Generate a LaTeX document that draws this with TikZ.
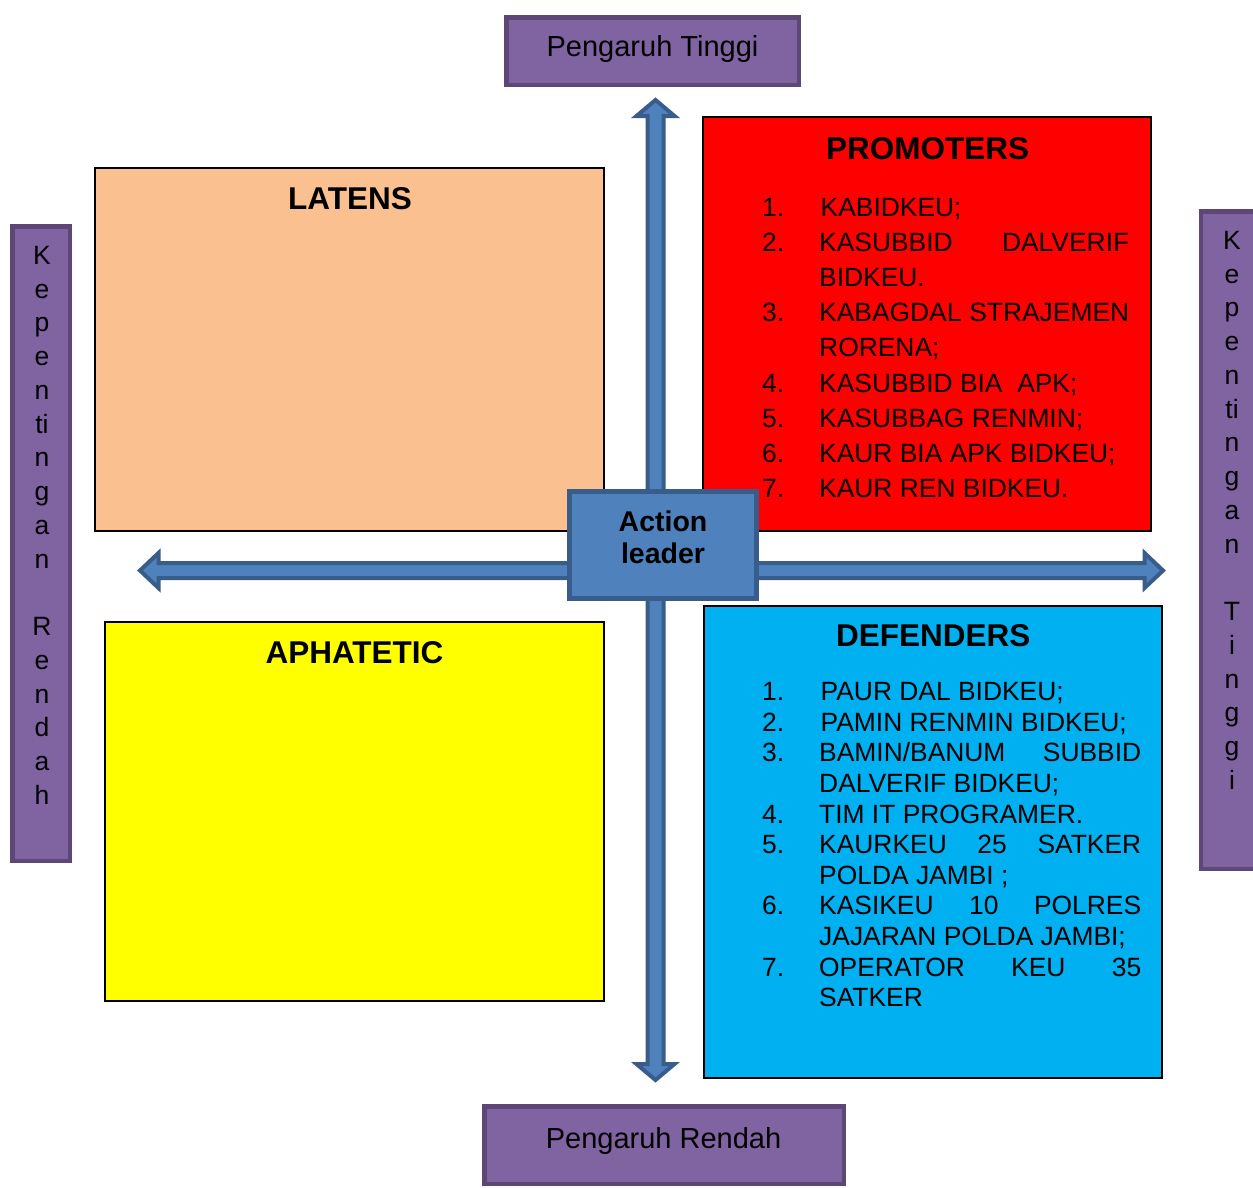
\documentclass[tikz,border=0pt]{standalone}
\usepackage{fontspec}
\setmainfont{Liberation Sans}
\definecolor{purfill}{HTML}{8064A2}
\definecolor{purline}{HTML}{5C4776}
\definecolor{peach}{HTML}{FAC090}
\definecolor{cyanq}{HTML}{00B0F0}
\definecolor{yellowq}{HTML}{FFFF00}
\definecolor{redq}{HTML}{FF0000}
\definecolor{bluefill}{HTML}{4F81BD}
\definecolor{blueline}{HTML}{385D8A}
\tikzset{
  purplebox/.style={draw=purline, fill=purfill, line width=4.5pt, inner sep=0},
  quad/.style={draw=black, line width=1.5pt, inner sep=0},
  qtitle/.style={font=\fontsize{31.5}{36}\selectfont\bfseries, anchor=base, inner sep=0},
  plist/.style={font=\fontsize{26.4}{35.07}\selectfont, anchor=base west, inner sep=0},
  dlist/.style={font=\fontsize{26.4}{30.6}\selectfont, anchor=base west, inner sep=0},
  ptext/.style={font=\fontsize{29}{34}\selectfont, anchor=base, inner sep=0},
  vtext/.style={font=\fontsize{26.5}{33.75}\selectfont, anchor=base, inner sep=0},
  axisarrow/.style={draw=blueline, fill=bluefill, line width=4pt, line join=miter},
  leaderbox/.style={draw=blueline, fill=bluefill, line width=5pt, inner sep=0},
}
\begin{document}
\begin{tikzpicture}[x=1pt, y=-1pt]
\path[use as bounding box, clip] (0,0) rectangle (1253,1187);
\fill[white] (0,0) rectangle (1253,1187);

% axis arrows
\draw[axisarrow] (655.5,100) -- (674.5,116) -- (663.5,116) -- (663.5,1064) -- (674.5,1064)
  -- (655.5,1080) -- (636.5,1064) -- (647.5,1064) -- (647.5,116) -- (636.5,116) -- cycle;
\draw[axisarrow] (140,570.5) -- (158.5,553) -- (158.5,563) -- (1144.5,563) -- (1144.5,553)
  -- (1163,570.5) -- (1144.5,588) -- (1144.5,578) -- (158.5,578) -- (158.5,588) -- cycle;

% purple label boxes
\node[purplebox, minimum width=292.5pt, minimum height=67.5pt] (ptop) at (652.5,51) {};
\node[ptext] (ptoptxt) at (652.5,56) {Pengaruh Tinggi};
\node[purplebox, minimum width=359.5pt, minimum height=77.5pt] (pbot) at (664,1145) {};
\node[ptext] (pbottxt) at (663.5,1148) {Pengaruh Rendah};
\node[purplebox, minimum width=57.5pt, minimum height=634.5pt] (pleft) at (41,543.5) {};
\node[vtext] (plefttxt) at (42,264.3) {\begin{tabular}[t]{@{}c@{}}K\\e\\p\\e\\n\\ti\\n\\g\\a\\n\\[33.75pt]R\\e\\n\\d\\a\\h\end{tabular}};
\node[purplebox, minimum width=88.75pt, minimum height=657.5pt] (pright) at (1245.6,540) {};
\node[vtext] (prighttxt) at (1232,249.3) {\begin{tabular}[t]{@{}c@{}}K\\e\\p\\e\\n\\ti\\n\\g\\a\\n\\[33.75pt]T\\i\\n\\g\\g\\i\end{tabular}};

% quadrants
\node[quad, fill=peach, minimum width=509pt, minimum height=363pt] (latens) at (349.5,349.5) {};
\node[qtitle] (latenst) at (350,209.3) {LATENS};
\node[quad, fill=redq, minimum width=448pt, minimum height=414pt] (prom) at (927,324) {};
\node[qtitle] (promt) at (927.5,159.3) {PROMOTERS};
\node[quad, fill=yellowq, minimum width=499pt, minimum height=379pt] (aph) at (354.5,811.5) {};
\node[qtitle] (apht) at (354.5,663.3) {APHATETIC};
\node[quad, fill=cyanq, minimum width=458pt, minimum height=472pt] (def) at (933,842) {};
\node[qtitle] (deft) at (933.3,646) {DEFENDERS};

\node[plist] (promlist) at (762,216.7) {\begin{tabular}[t]{@{}p{57pt}@{}l@{}}
1. & \hspace{1.5pt}KABIDKEU;\\
2. & \makebox[310pt][s]{KASUBBID DALVERIF}\\
   & BIDKEU.\\
3. & \makebox[310pt][s]{KABAGDAL STRAJEMEN}\\
   & RORENA;\\
4. & KASUBBID BIA\ \ APK;\\
5. & KASUBBAG RENMIN;\\
6. & KAUR BIA APK BIDKEU;\\
7. & KAUR REN BIDKEU.
\end{tabular}};

\node[dlist] (deflist) at (762,700.7) {\begin{tabular}[t]{@{}p{57pt}@{}l@{}}
1. & \hspace{1.5pt}PAUR DAL BIDKEU;\\
2. & \hspace{1.5pt}PAMIN RENMIN BIDKEU;\\
3. & \makebox[322pt][s]{BAMIN/BANUM SUBBID}\\
   & DALVERIF BIDKEU;\\
4. & TIM IT PROGRAMER.\\
5. & \makebox[322pt][s]{KAURKEU 25 SATKER}\\
   & POLDA JAMBI ;\\
6. & \makebox[322pt][s]{KASIKEU 10 POLRES}\\
   & JAJARAN POLDA JAMBI;\\
7. & \makebox[322pt][s]{OPERATOR KEU 35}\\
   & SATKER
\end{tabular}};

% action leader
\node[leaderbox, minimum width=187pt, minimum height=107pt] (leader) at (663,545) {};
\node[font=\fontsize{28.5}{32}\selectfont\bfseries, anchor=base, inner sep=0] (leadertxt) at (663,531.7)
  {\begin{tabular}[t]{@{}c@{}}Action\\leader\end{tabular}};
\end{tikzpicture}
\end{document}
